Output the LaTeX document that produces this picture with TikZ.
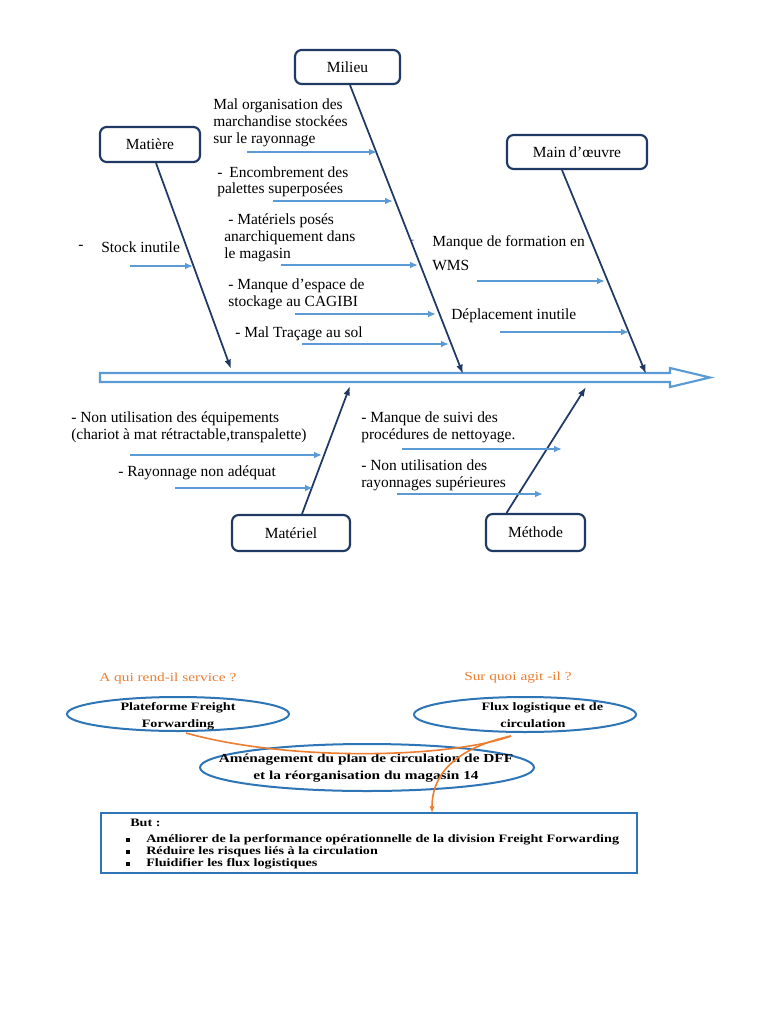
\documentclass[tikz,border=0pt]{standalone}
\usepackage{fontspec}
\setmainfont{Liberation Serif}
\newfontfamily\wideserif[FakeStretch=1.25]{Liberation Serif}
\usetikzlibrary{arrows.meta,calc,shapes.geometric}
\definecolor{navy}{HTML}{1F3864}
\definecolor{lblue}{HTML}{5B9BD5}
\definecolor{eblue}{HTML}{2E75B6}
\definecolor{orng}{HTML}{ED7D31}
\begin{document}
\begin{tikzpicture}[x=0.75pt,y=-0.75pt,
  cat/.style={draw=navy, line width=1.6pt, rounded corners=5pt, inner sep=0pt, font=\fontsize{11.6}{13}\selectfont},
  bone/.style={draw=navy, line width=1.3pt, -{Latex[length=7pt,width=5pt]}},
  sub/.style={draw=lblue, line width=1.3pt, -{Latex[length=6pt,width=5pt]}},
  lbl/.style={anchor=north west, align=left, inner sep=0pt, font=\fontsize{11.6}{12.75}\selectfont},
  wlbl/.style={anchor=west, inner sep=0pt, font=\fontsize{11.6}{12.75}\selectfont},
  ell/.style={draw=eblue, line width=1.5pt, ellipse, inner sep=0pt},
  etxt/.style={inner sep=0pt, align=center, font=\wideserif\bfseries\fontsize{8.5}{12.75}\selectfont},
  qlbl/.style={anchor=west, inner sep=0pt, text=orng, font=\wideserif\fontsize{9.2}{10}\selectfont},
  orl/.style={draw=orng, line width=1.2pt},
  blt/.style={fill=black, minimum size=2.6pt, inner sep=0pt},
  btxt/.style={anchor=west, inner sep=0pt, font=\wideserif\bfseries\fontsize{8.5}{9}\selectfont}
]
\useasboundingbox[fill=white] (0,0) rectangle (768,1024);

% spine
\draw[lblue, line width=1.6pt] (100,373) -- (670,373) -- (670,368) -- (710,377.5) -- (670,387) -- (670,382) -- (100,382) -- cycle;

% category boxes
\node[cat, minimum width=78.75pt, minimum height=25.5pt] (milieu) at (347.5,67) {Milieu};
\node[cat, minimum width=75pt, minimum height=26.25pt] (matiere) at (150,144.5) {Matière};
\node[cat, minimum width=105pt, minimum height=25.5pt] (main) at (577,152) {Main d’œuvre};
\node[cat, minimum width=88.5pt, minimum height=27pt] (materiel) at (291,533) {Matériel};
\node[cat, minimum width=74.25pt, minimum height=27.75pt] (methode) at (535.5,532.5) {Méthode};

% bone ends
\coordinate (milE) at (463,374);
\coordinate (matE) at (231,369);
\coordinate (mainE) at (646,374);
\coordinate (mtlE) at (350,386);
\coordinate (metE) at (586,387);

\draw[bone] ($(milieu.south)+(2.5,0)$) -- (milE);
\draw[bone] ($(matiere.south)+(6,0)$) -- (matE);
\draw[bone] ($(main.south)+(-15,0)$) -- (mainE);
\draw[bone] ($(materiel.north)+(11,0)$) -- (mtlE);
\draw[bone] ($(methode.north)+(-29,0)$) -- (metE);

% sub-cause arrows
\coordinate (a1s) at (130,266); \coordinate (a1e) at (193,266);
\coordinate (a2s) at (247,152); \coordinate (a2e) at (377,152);
\coordinate (a3s) at (273,201); \coordinate (a3e) at (393,201);
\coordinate (a4s) at (281,265); \coordinate (a4e) at (418,265);
\coordinate (a5s) at (295,314); \coordinate (a5e) at (436,314);
\coordinate (a6s) at (302,344); \coordinate (a6e) at (449,344);
\coordinate (a7s) at (477,281); \coordinate (a7e) at (605,281);
\coordinate (a8s) at (500,332); \coordinate (a8e) at (629,332);
\coordinate (a9s) at (130,455); \coordinate (a9e) at (322,455);
\coordinate (a10s) at (175,488); \coordinate (a10e) at (313,488);
\coordinate (a11s) at (402,449); \coordinate (a11e) at (562,449);
\coordinate (a12s) at (397,494); \coordinate (a12e) at (543,494);
\foreach \i in {1,...,12} {\draw[sub] (a\i s) -- (a\i e);}

% labels
\node[wlbl] (d1) at (78,247) {-};
\node[wlbl] (stock) at (101,247) {Stock inutile};
\node[lbl] (mo) at (213,99) {Mal organisation des\\marchandise stockées\\sur le rayonnage};
\node[lbl] (enc) at (217,166) {-\hspace{0.45em}Encombrement des\\palettes superposées};
\node[lbl] (mat) at (224,213) {\hspace*{3pt}- Matériels posés\\anarchiquement dans\\le magasin};
\node[lbl] (esp) at (228,278) {- Manque d’espace de\\stockage au CAGIBI};
\node[lbl] (tra) at (235,326) {- Mal Traçage au sol};
\node[wlbl, font=\fontsize{6}{7}\selectfont] (d2) at (411,241) {-};
\node[lbl] (wms) at (432,235) {Manque de formation en\\[5.5pt]WMS};
\node[wlbl] (dep) at (451,316) {Déplacement inutile};
\node[lbl] (neq) at (71,411) {- Non utilisation des équipements\\(chariot à mat rétractable,transpalette)};
\node[wlbl] (ray) at (118,473) {- Rayonnage non adéquat};
\node[lbl] (sui) at (361,411) {- Manque de suivi des\\procédures de nettoyage.};
\node[lbl] (nur) at (361,459) {- Non utilisation des\\rayonnages supérieures};

% bottom diagram
\node[qlbl] (q1) at (99,679) {A qui rend-il service ?};
\node[qlbl] (q2) at (464,678) {Sur quoi agit -il ?};
\node[ell, minimum width=166.5pt, minimum height=25.5pt] (ellL) at (178,714) {};
\node[ell, minimum width=166.5pt, minimum height=26.25pt] (ellR) at (525,714.5) {};
\node[ell, minimum width=250.5pt, minimum height=35.25pt] (ellM) at (367,767.5) {};
\node[etxt] (txL) at (178,716) {Plateforme Freight\\Forwarding};
\node[etxt] (txR) at (533,715) {\hspace*{14pt}Flux logistique et de\\circulation};
\node[etxt, font=\wideserif\bfseries\fontsize{9.2}{12.75}\selectfont] (txM) at (366,768.5) {Aménagement du plan de circulation de DFF\\et la réorganisation du magasin 14};

\node[draw=eblue, line width=1.5pt, minimum width=402pt, minimum height=45pt, inner sep=0pt] (but) at (369,843) {};
\node[btxt] (butt) at (130,823) {But :};
\node[blt] (b1) at (128,840) {};
\node[blt] (b2) at (128,852) {};
\node[blt] (b3) at (128,864) {};
\node[btxt] (t1) at (146,840) {Améliorer de la performance opérationnelle de la division Freight Forwarding};
\node[btxt] (t2) at (146,852) {Réduire les risques liés à la circulation};
\node[btxt] (t3) at (146,864) {Fluidifier les flux logistiques};

\coordinate (oL) at (186,733);
\coordinate (oR) at (511,736);
\coordinate (oB) at (432,813);
\draw[orl] (oL) .. controls (290,762) and (450,758) .. (oR);
\draw[orl, -{Latex[length=5pt,width=4pt]}] (oR) .. controls (470,745) and (432,765) .. (oB);
\end{tikzpicture}
\end{document}
